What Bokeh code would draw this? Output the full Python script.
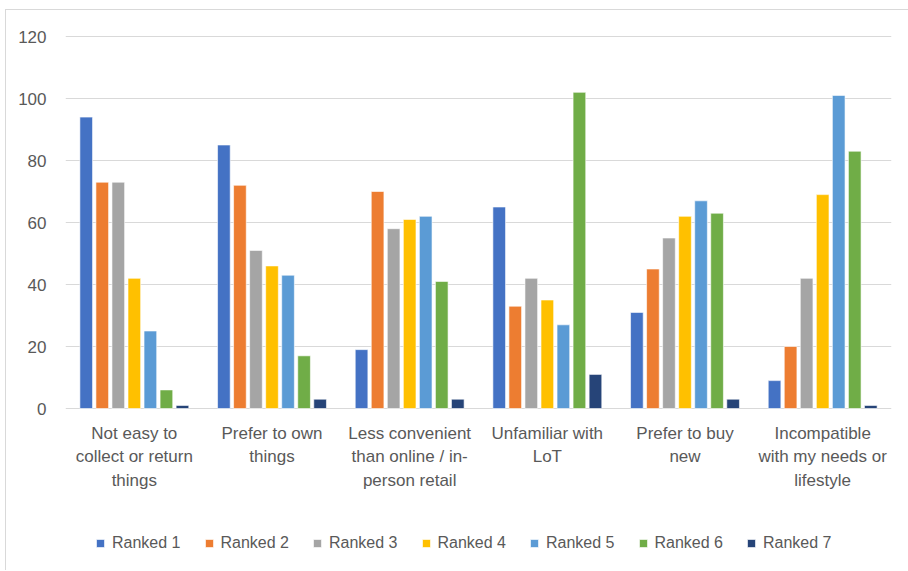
from bokeh.plotting import figure
from bokeh.models import ColumnDataSource, Legend, LegendItem, FixedTicker, Range1d
from bokeh.core.properties import value
from bokeh.embed import file_html
from bokeh.resources import INLINE

categories = [
    "Not easy to\ncollect or return\nthings",
    "Prefer to own\nthings",
    "Less convenient\nthan online / in-\nperson retail",
    "Unfamiliar with\nLoT",
    "Prefer to buy\nnew",
    "Incompatible\nwith my needs or\nlifestyle",
]
series_names = ["Ranked 1", "Ranked 2", "Ranked 3", "Ranked 4", "Ranked 5", "Ranked 6", "Ranked 7"]
ranked_1 = [94, 85, 19, 65, 31, 9]
ranked_2 = [73, 72, 70, 33, 45, 20]
ranked_3 = [73, 51, 58, 42, 55, 42]
ranked_4 = [42, 46, 61, 35, 62, 69]
ranked_5 = [25, 43, 62, 27, 67, 101]
ranked_6 = [6, 17, 41, 102, 63, 83]
ranked_7 = [1, 3, 3, 11, 3, 1]
y_ticks = [0, 20, 40, 60, 80, 100, 120]

series = [ranked_1, ranked_2, ranked_3, ranked_4, ranked_5, ranked_6, ranked_7]
colors = ["#4472C4", "#ED7D31", "#A5A5A5", "#FFC000", "#5B9BD5", "#70AD47", "#264478"]

FONT = "Liberation Sans"
TXT = "#595959"

# the frame extends below the value axis so that category labels and legend sit inside it
px_per_unit = 3.1
frame_h = 536
y_top = 120.65
y_bottom = y_top - frame_h / px_per_unit

p = figure(frame_width=826, frame_height=frame_h, output_backend="svg", toolbar_location=None,
           x_range=Range1d(0, len(categories)), y_range=Range1d(y_bottom, y_top),
           x_axis_location=None,
           min_border_left=59, min_border_right=30, min_border_top=24, min_border_bottom=0)
p.outline_line_color = None
p.background_fill_color = "white"
p.border_fill_color = "white"
p.margin = (9, 0, 0, 5)
p.styles = {"border-top": "1px solid #D9D9D9", "border-left": "1px solid #D9D9D9"}

step = 0.1165
width = 0.092
centers = [i + 0.5 for i in range(len(categories))]
items = []
for k, (name, vals, col) in enumerate(zip(series_names, series, colors)):
    xs = [c + (k - 3) * step for c in centers]
    src = ColumnDataSource(dict(x=xs, top=vals))
    r = p.vbar(x="x", top="top", bottom=0, width=width, source=src, fill_color=col,
               line_color="white", line_width=0.6)
    items.append(LegendItem(label=name, renderers=[r]))

lab_src = ColumnDataSource(dict(x=centers, y=[0] * len(centers), text=categories))
p.text(x="x", y="y", text="text", source=lab_src, text_align="center", text_baseline="top",
       y_offset=15, text_font=value(FONT), text_font_size="17px", text_line_height=1.25,
       text_color=TXT)

p.yaxis.ticker = FixedTicker(ticks=y_ticks)
p.yaxis.axis_line_color = None
p.yaxis.major_tick_line_color = None
p.yaxis.minor_tick_line_color = None
p.yaxis.major_label_text_font = FONT
p.yaxis.major_label_text_font_size = "17px"
p.yaxis.major_label_text_color = TXT
p.yaxis.major_label_standoff = 13

p.xgrid.grid_line_color = None
p.ygrid.grid_line_color = "#D9D9D9"
p.ygrid.ticker = FixedTicker(ticks=y_ticks)

legend = Legend(items=items, orientation="horizontal", location=(30, 18),
                label_text_font=FONT, label_text_font_size="16px", label_text_color=TXT,
                glyph_width=10, glyph_height=10, label_standoff=7, spacing=23,
                border_line_color=None, background_fill_alpha=0, padding=0, margin=0)
p.add_layout(legend, "center")

open("out.html", "w").write(file_html(p, INLINE))
